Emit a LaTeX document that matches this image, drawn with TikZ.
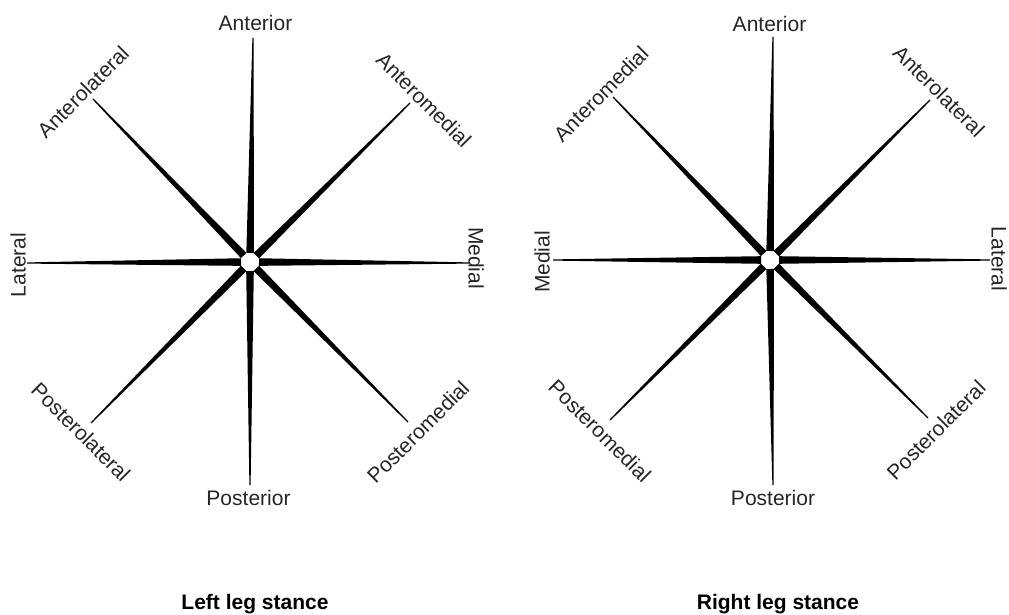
\documentclass[tikz,border=0pt]{standalone}
\usepackage{fontspec}
\setmainfont{Liberation Sans}
\usetikzlibrary{calc}
\newcommand\lblfont{\fontsize{21}{25}\selectfont}
\newcommand\starray[2]{%
  \path ($(#1)!9pt!(#2)$) coordinate (ri);
  \fill[raystyle] ($(ri)!3.8pt!90:(#2)$) -- ($(ri)!3.8pt!-90:(#2)$)
     -- ($(#2)!0.6pt!90:(ri)$) -- ($(#2)!0.6pt!-90:(ri)$) -- cycle;
}
\tikzset{
  raystyle/.style={fill=black},
  lbl/.style={font=\lblfont, inner sep=0pt, text=black!85},
  hlbl/.style={lbl, anchor=base},
  ttl/.style={font=\lblfont\bfseries, inner sep=0pt, anchor=base},
}
\begin{document}
\begin{tikzpicture}[x=1pt,y=-1pt]
\useasboundingbox[fill=white] (0,0) rectangle (1009,615);
% ---------- left star ----------
\coordinate (Lc) at (250,262);
\coordinate (Ln) at (253,38);
\coordinate (Lnw) at (93,99);
\coordinate (Lne) at (410,103);
\coordinate (Lw) at (27,263);
\coordinate (Le) at (470,263);
\coordinate (Lsw) at (91,423);
\coordinate (Ls) at (250,485);
\coordinate (Lse) at (408,422);
\foreach \e in {Ln,Lnw,Lne,Lw,Le,Lsw,Ls,Lse} {\starray{Lc}{\e}}
\node[hlbl] (LnT) at (255.5,31) {Anterior};
\node[lbl, rotate=45] (LnwT) at (83,92) {Anterolateral};
\node[lbl, rotate=-45] (LneT) at (424,100) {Anteromedial};
\node[lbl, rotate=90] (LwT) at (18,265) {Lateral};
\node[lbl, rotate=-90] (LeT) at (476,258) {Medial};
\node[lbl, rotate=-45] (LswT) at (81,432) {Posterolateral};
\node[hlbl] (LsT) at (248.5,505) {Posterior};
\node[lbl, rotate=45] (LseT) at (418,432) {Posteromedial};
\node[ttl] (Ltitle) at (255,609) {Left leg stance};
% ---------- right star ----------
\coordinate (Rc) at (770,260);
\coordinate (Rn) at (773,37);
\coordinate (Rnw) at (613,97);
\coordinate (Rne) at (930,100);
\coordinate (Rw) at (553,260);
\coordinate (Re) at (990,260);
\coordinate (Rsw) at (610,420);
\coordinate (Rs) at (773,485);
\coordinate (Rse) at (928,418);
\foreach \e in {Rn,Rnw,Rne,Rw,Re,Rsw,Rs,Rse} {\starray{Rc}{\e}}
\node[hlbl] (RnT) at (769.5,32) {Anterior};
\node[lbl, rotate=45] (RnwT) at (601,94) {Anteromedial};
\node[lbl, rotate=-45] (RneT) at (939,91) {Anterolateral};
\node[lbl, rotate=90] (RwT) at (542,262) {Medial};
\node[lbl, rotate=-90] (ReT) at (999,259) {Lateral};
\node[lbl, rotate=-45] (RswT) at (600,431) {Posteromedial};
\node[hlbl] (RsT) at (773,505) {Posterior};
\node[lbl, rotate=45] (RseT) at (936,430) {Posterolateral};
\node[ttl] (Rtitle) at (778,609) {Right leg stance};
\end{tikzpicture}
\end{document}
